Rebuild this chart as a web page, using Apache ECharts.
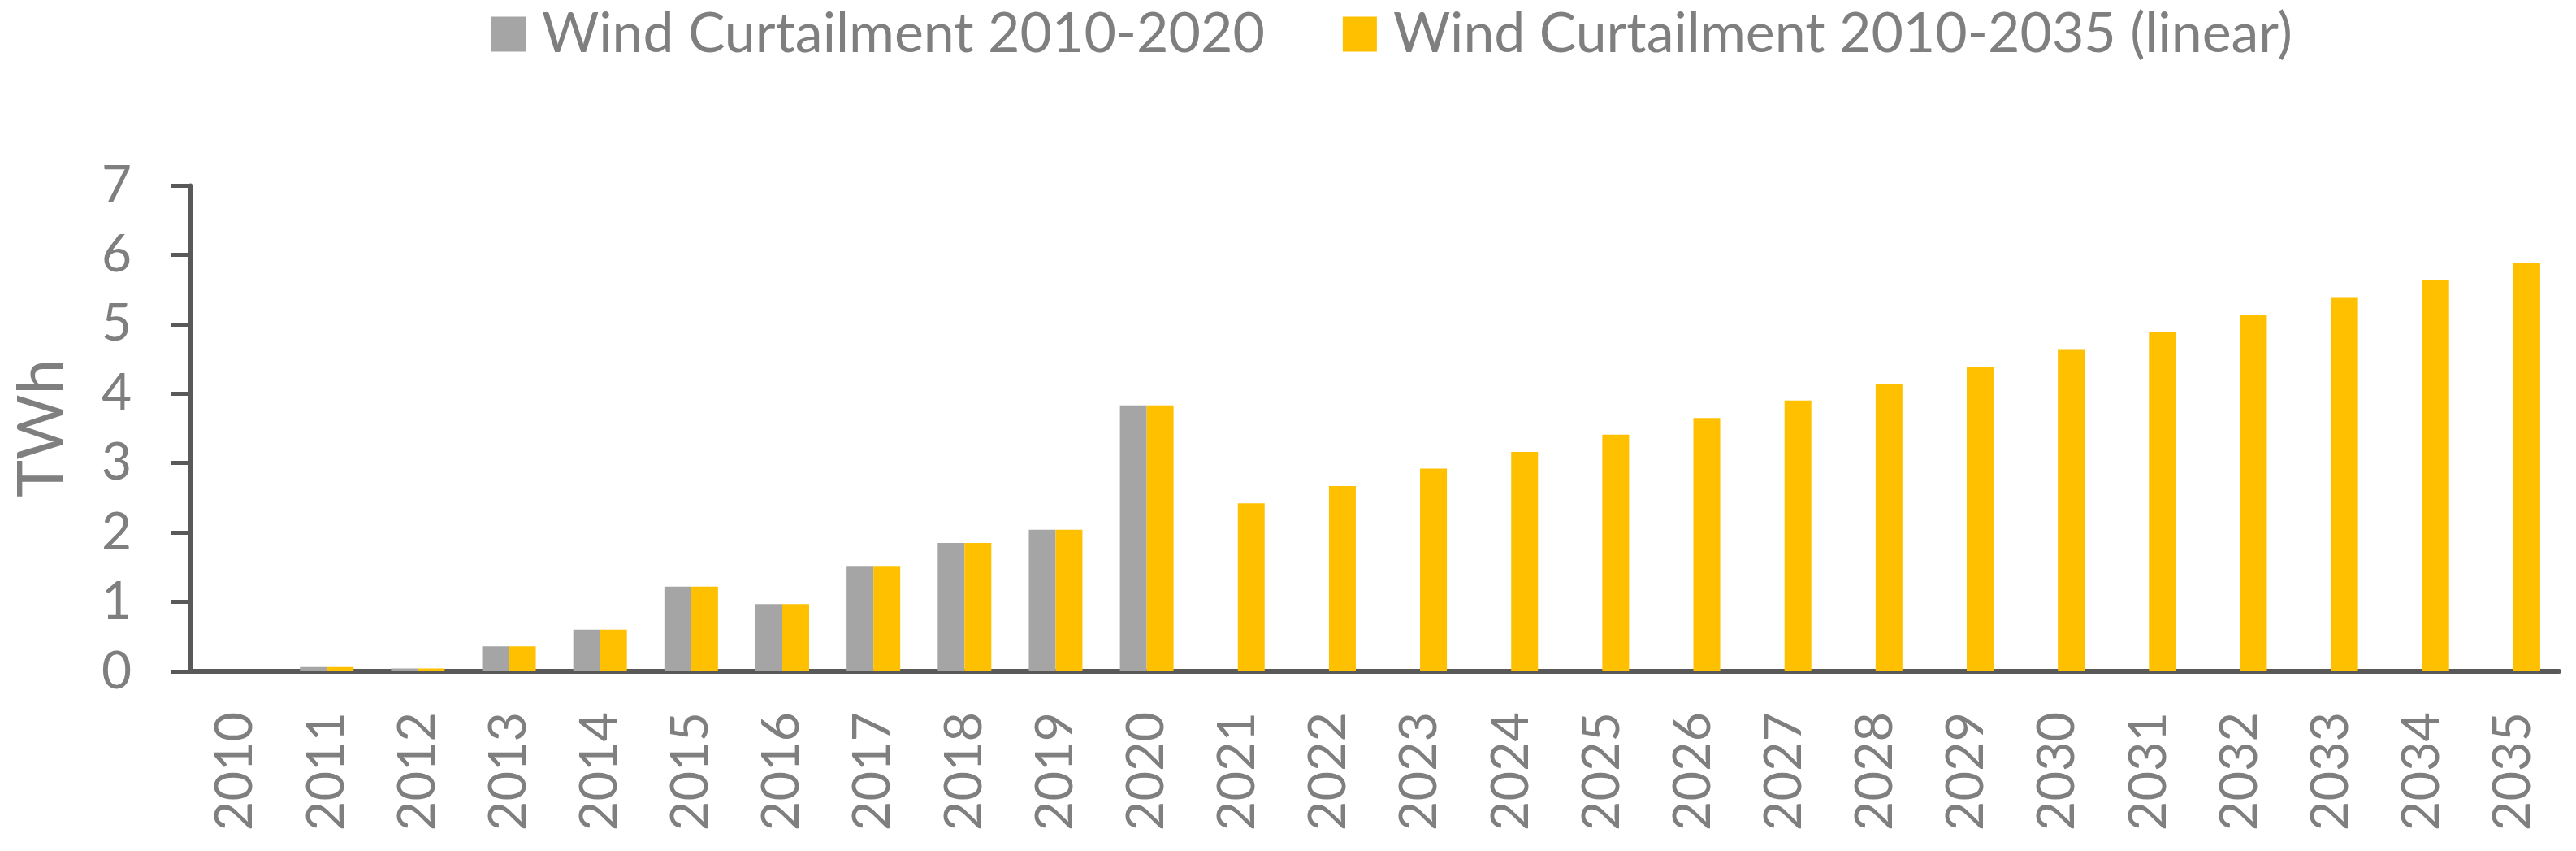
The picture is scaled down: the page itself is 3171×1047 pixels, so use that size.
<!DOCTYPE html>
<html>
<head>
<meta charset="utf-8">
<script src="https://cdn.jsdelivr.net/npm/echarts@6/dist/echarts.min.js"></script>
<style>
html,body{margin:0;padding:0;background:#fff;}
#chart{width:3171px;height:1047px;}
</style>
</head>
<body>
<div id="chart"></div>
<script>
const years = ['2010','2011','2012','2013','2014','2015','2016','2017','2018','2019','2020','2021','2022','2023','2024','2025','2026','2027','2028','2029','2030','2031','2032','2033','2034','2035'];
const curtail2010_2020 = [0, 0.06, 0.04, 0.36, 0.60, 1.22, 0.97, 1.52, 1.85, 2.04, 3.83, '-', '-', '-', '-', '-', '-', '-', '-', '-', '-', '-', '-', '-', '-', '-'];
const curtailLinear = [0, 0.06, 0.04, 0.36, 0.60, 1.22, 0.97, 1.52, 1.85, 2.04, 3.83, 2.42, 2.67, 2.92, 3.16, 3.41, 3.65, 3.90, 4.14, 4.39, 4.64, 4.89, 5.13, 5.38, 5.63, 5.88];
const yTicks = [0, 1, 2, 3, 4, 5, 6, 7];
const seriesNames = ['Wind Curtailment 2010-2020', 'Wind Curtailment 2010-2035 (linear)'];

const chart = echarts.init(document.getElementById('chart'), null, {renderer: 'canvas'});
const FONT = 'Lato';
const TXT = '#7F7F7F';
const AX = '#595959';
chart.setOption({
  animation: false,
  backgroundColor: '#ffffff',
  textStyle: {fontFamily: FONT},
  legend: {
    left: 600,
    top: 3,
    itemWidth: 42,
    itemHeight: 43,
    itemGap: 96,
    icon: 'rect',
    textStyle: {fontFamily: FONT, fontSize: 68, color: TXT, padding: [0, 0, 0, 15]},
    data: seriesNames
  },
  grid: {left: 234, right: 21, top: 228, bottom: 221, containLabel: false},
  xAxis: {
    type: 'category',
    data: years,
    axisLine: {show: true, lineStyle: {color: AX, width: 6}},
    axisTick: {show: false},
    axisLabel: {rotate: 90, fontFamily: FONT, fontSize: 63, color: TXT, margin: 50, interval: 0}
  },
  yAxis: {
    type: 'value',
    min: yTicks[0],
    max: yTicks[yTicks.length - 1],
    interval: 1,
    name: 'TWh',
    nameLocation: 'middle',
    nameRotate: 90,
    nameGap: 182,
    nameTextStyle: {fontFamily: FONT, fontSize: 78, color: TXT, verticalAlign: 'middle'},
    axisLine: {show: true, lineStyle: {color: AX, width: 5}},
    axisTick: {show: true, inside: false, length: 24, lineStyle: {color: AX, width: 5}},
    splitLine: {show: false},
    axisLabel: {fontFamily: FONT, fontSize: 64, color: TXT, margin: 72}
  },
  series: [
    {name: seriesNames[0], type: 'bar', data: curtail2010_2020, barWidth: 33, barGap: '0%', itemStyle: {color: '#A5A5A5'}},
    {name: seriesNames[1], type: 'bar', data: curtailLinear, barWidth: 33, barGap: '0%', itemStyle: {color: '#FFC000'}}
  ]
});
</script>
</body>
</html>
